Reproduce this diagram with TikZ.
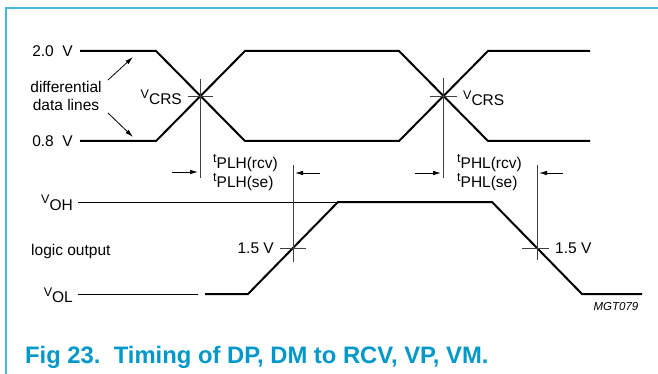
\documentclass[tikz,border=0pt]{standalone}
\usepackage{fontspec}
\setmainfont{Liberation Sans}
\usetikzlibrary{arrows.meta}
\definecolor{capblue}{RGB}{0,152,200}
\definecolor{framebl}{RGB}{70,185,225}
\newcommand{\sublbl}[2]{{\fontsize{12.5}{12.5}\selectfont\raisebox{6pt}{#1}}#2}
\begin{document}
\begin{tikzpicture}[x=1pt,y=-1pt,
  sig/.style={line width=2pt, line join=miter},
  thinln/.style={line width=0.8pt},
  tickln/.style={line width=0.9pt, black!75},
  lbl/.style={font=\fontsize{15.5}{18}\selectfont, inner sep=0pt},
  arr/.style={line width=0.8pt, -{Latex[length=8pt,width=4.5pt]}}]
\useasboundingbox (0,0) rectangle (658,374);
% frame
\draw[framebl, line width=2pt] (5.5,374) -- (5.5,8) -- (658,8);
% differential data lines
\draw[sig] (80,51) -- (156,51) -- (245,141) -- (399,141) -- (488,51) -- (590,51);
\draw[sig] (80,141) -- (156,141) -- (245,51) -- (399,51) -- (488,141) -- (590,141);
\coordinate (c1) at (200.5,96);
\coordinate (c2) at (443.5,96);
\draw[tickln] (200.5,79) -- (200.5,178);
\draw[tickln] (188,96) -- (213,96);
\draw[tickln] (443.5,78) -- (443.5,178);
\draw[tickln] (430,96) -- (457,96);
% logic output
\draw[thinln] (78,202) -- (338,202);
\draw[thinln] (78,294) -- (198,294);
\draw[sig] (205,294) -- (248,294) -- (338,202) -- (492,202) -- (582,294) -- (642,294);
\draw[tickln] (293,165) -- (293,262);
\draw[tickln] (280,248) -- (306,248);
\draw[tickln] (537,165) -- (537,260);
\draw[tickln] (522,248) -- (549,248);
% timing arrows
\coordinate (a1s) at (172,172); \coordinate (a1e) at (198,172);
\coordinate (a2s) at (320,173); \coordinate (a2e) at (295,173);
\coordinate (a3s) at (415,173); \coordinate (a3e) at (441,173);
\coordinate (a4s) at (563,173); \coordinate (a4e) at (539,173);
\draw[arr] (a1s) -- (a1e);
\draw[arr] (a2s) -- (a2e);
\draw[arr] (a3s) -- (a3e);
\draw[arr] (a4s) -- (a4e);
% labels
\node[lbl, anchor=base east] (v20) at (73,56.5) {2.0\ \ V};
\node[lbl, anchor=base east] (v08) at (73,146.5) {0.8\ \ V};
\node[lbl, align=center] (diff) at (66,96) {differential\\data lines};
\coordinate (d1) at (133,57);
\coordinate (d2) at (133,137);
\draw[arr] (108,80) -- (d1);
\draw[arr] (108,113) -- (d2);
\node[lbl, anchor=base east] (vcrs1) at (182,105) {\sublbl{V}{CRS}};
\node[lbl, anchor=base west] (vcrs2) at (463,106) {\sublbl{V}{CRS}};
\node[lbl, anchor=base west] (tplh1) at (213,169) {\sublbl{t}{PLH(rcv)}};
\node[lbl, anchor=base west] (tplh2) at (213,188) {\sublbl{t}{PLH(se)}};
\node[lbl, anchor=base west] (tphl1) at (457,169) {\sublbl{t}{PHL(rcv)}};
\node[lbl, anchor=base west] (tphl2) at (457,188) {\sublbl{t}{PHL(se)}};
\node[lbl, anchor=base east] (voh) at (73,210) {\sublbl{V}{OH}};
\node[lbl, anchor=base east] (vol) at (73,302) {\sublbl{V}{OL}};
\node[lbl, anchor=base west] (logic) at (31,255) {logic output};
\node[lbl, anchor=base east] (v15a) at (274,253) {1.5 V};
\node[lbl, anchor=base west] (v15b) at (555,253) {1.5 V};
\node[inner sep=0pt, font=\fontsize{11.5}{12}\selectfont\itshape] (mgt) at (616,307) {MGT079};
\node[inner sep=0pt, anchor=base west, text=capblue, font=\fontsize{23.8}{25}\selectfont\bfseries] (cap) at (25,363) {Fig 23.\ \ Timing of DP, DM to RCV, VP, VM.};
\end{tikzpicture}
\end{document}
